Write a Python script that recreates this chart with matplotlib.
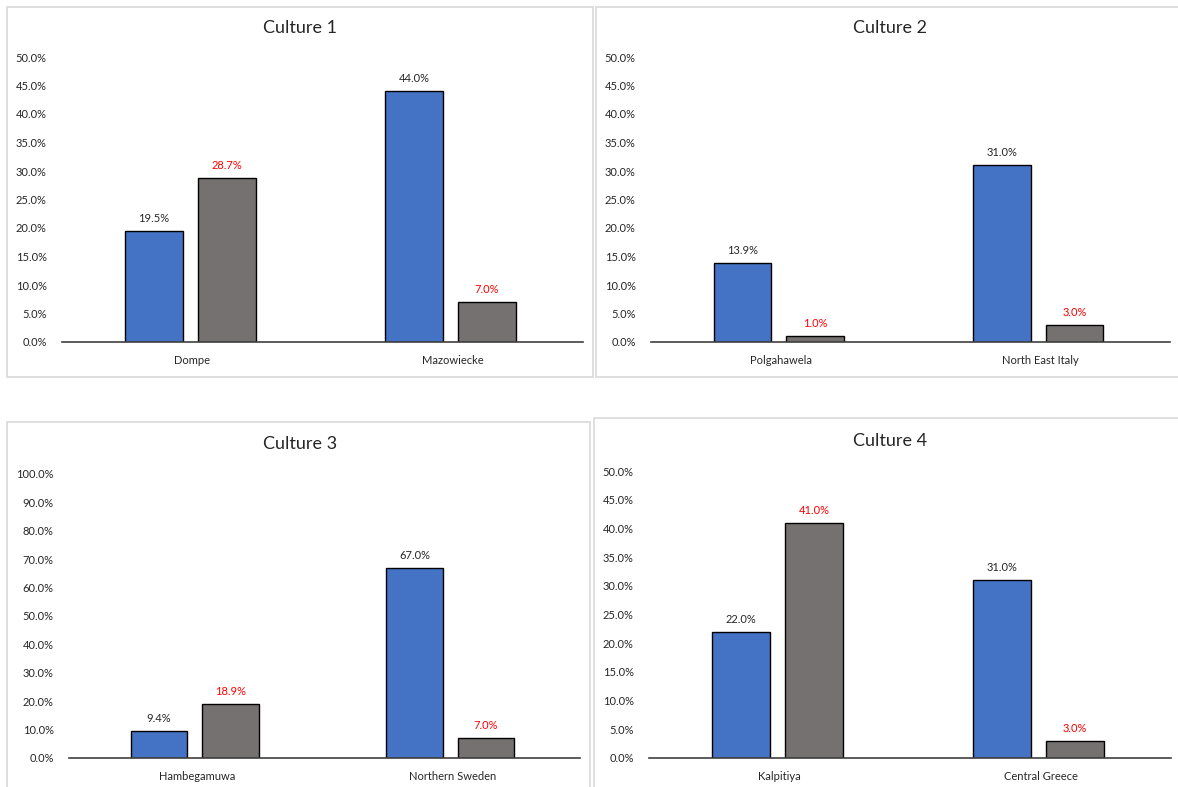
import matplotlib
matplotlib.use("Agg")
import matplotlib.pyplot as plt
from matplotlib.patches import Rectangle
from matplotlib.ticker import FuncFormatter, MultipleLocator

plt.rcParams['font.family'] = ['Lato', 'DejaVu Sans']

# Data: share of each region, first series (blue) and second series (grey)
titles = ["Culture 1", "Culture 2", "Culture 3", "Culture 4"]
regions = [
    ["Dompe", "Mazowiecke"],
    ["Polgahawela", "North East Italy"],
    ["Hambegamuwa", "Northern Sweden"],
    ["Kalpitiya", "Central Greece"],
]
series_a = [
    [19.5, 44.0],
    [13.9, 31.0],
    [9.4, 67.0],
    [22.0, 31.0],
]
series_b = [
    [28.7, 7.0],
    [1.0, 3.0],
    [18.9, 7.0],
    [41.0, 3.0],
]
y_max = [50, 50, 100, 50]
y_step = [5, 5, 10, 5]

W, H = 1178, 787
fig = plt.figure(figsize=(W / 100, H / 100), dpi=100)
fig.patch.set_facecolor("white")

# Panel frames (pixel boxes: x0, y0, x1, y1 measured from top-left)
frames = [
    (7, 7, 593, 377),
    (596, 7, 1180, 377),
    (7, 422, 590, 790),
    (594, 418, 1180, 790),
]
for x0, y0, x1, y1 in frames:
    fig.add_artist(Rectangle((x0 / W, 1 - y1 / H), (x1 - x0) / W, (y1 - y0) / H,
                             transform=fig.transFigure, facecolor="white",
                             edgecolor="#d9d9d9", linewidth=1.2, zorder=0))

# Plot areas (pixel: left, right, baseline y, top y)
areas = [
    (62, 583, 342, 57),
    (651, 1170, 342, 57),
    (69, 580, 758, 474),
    (649, 1171, 758, 471),
]
title_y = [28, 28, 444, 441]
title_x = [300, 890, 300, 890]

BLUE = "#4472C4"
GREY = "#767171"
TEXT = "#262626"
off_a = -0.148
off_b = 0.132
width = 0.222

for i in range(4):
    l, r, b, t = areas[i]
    ax = fig.add_axes([l / W, 1 - b / H, (r - l) / W, (b - t) / H])
    ax.set_facecolor("none")
    xs = range(len(regions[i]))
    ax.bar([x + off_a for x in xs], series_a[i], width=width, color=BLUE,
           edgecolor="black", linewidth=1.0, zorder=3)
    ax.bar([x + off_b for x in xs], series_b[i], width=width, color=GREY,
           edgecolor="black", linewidth=1.0, zorder=3)
    for x, v in zip(xs, series_a[i]):
        ax.annotate(f"{v:.1f}%", (x + off_a, v), xytext=(0, 5),
                    textcoords="offset points", ha="center", va="bottom",
                    fontsize=8, color=TEXT)
    for x, v in zip(xs, series_b[i]):
        ax.annotate(f"{v:.1f}%", (x + off_b, v), xytext=(0, 5),
                    textcoords="offset points", ha="center", va="bottom",
                    fontsize=8, color="#ff0000")
    ax.set_xlim(-0.5, len(regions[i]) - 0.5)
    ax.set_ylim(0, y_max[i])
    ax.yaxis.set_major_locator(MultipleLocator(y_step[i]))
    ax.yaxis.set_major_formatter(FuncFormatter(lambda v, p: f"{v:.1f}%"))
    ax.set_xticks(list(xs))
    ax.set_xticklabels(regions[i])
    ax.tick_params(axis="both", length=0, labelsize=8, colors=TEXT)
    ax.tick_params(axis="y", pad=11)
    ax.tick_params(axis="x", pad=9)
    for s in ("top", "right", "left"):
        ax.spines[s].set_visible(False)
    ax.spines["bottom"].set_color("#404040")
    ax.spines["bottom"].set_linewidth(1.2)
    ax.spines["bottom"].set_zorder(4)
    fig.text(title_x[i] / W, 1 - title_y[i] / H, titles[i], ha="center",
             va="center", fontsize=13, color=TEXT)

fig.savefig("out.png", dpi=100, facecolor="white")
